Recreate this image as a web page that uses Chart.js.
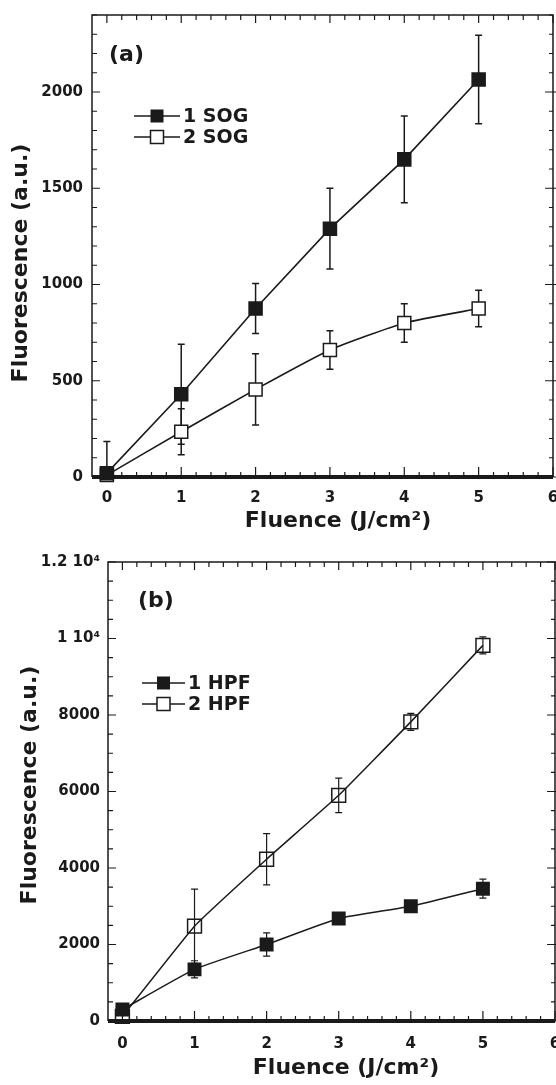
<!DOCTYPE html>
<html>
<head>
<meta charset="utf-8">
<script src="https://cdn.jsdelivr.net/npm/chart.js@4"></script>
<style>
body{margin:0;background:#fff;}
#wrap{position:relative;width:556px;height:1085px;background:#fff;}
canvas{position:absolute;left:0;}
</style>
</head>
<body>
<div id="wrap">
<canvas id="chartA" width="556" height="540" style="top:0"></canvas>
<canvas id="chartB" width="556" height="545" style="top:540px"></canvas>
</div>
<script>
// fluence values (J/cm2)
const fluence = [0,1,2,3,4,5];
const xTicks = [0,1,2,3,4,5,6];

// panel (a) SOG
const sog1 = [20, 430, 875, 1290, 1650, 2065];
const sog1Err = [165, 260, 130, 210, 225, 230];
const sog2 = [10, 235, 455, 660, 800, 875];
const sog2Err = [0, 120, 185, 100, 100, 95];
const yTicksA = [0,500,1000,1500,2000];

// panel (b) HPF
const hpf1 = [300, 1350, 2000, 2680, 3000, 3460];
const hpf1Err = [0, 225, 305, 100, 100, 250];
const hpf2 = [120, 2480, 4230, 5900, 7820, 9820];
const hpf2Err = [0, 970, 670, 450, 220, 220];
const yTicksB = [0,2000,4000,6000,8000,10000,12000];

const INK = "#1a1a1a";
const FONT = "'DejaVu Sans', Arial, sans-serif";

function pts(xs, ys){
    return xs.map((x,i)=>({x:x, y:ys[i]}));
}

function drawSquare(ctx, x, y, s, filled, lw){
    ctx.save();
    if(filled){
        ctx.fillStyle = INK;
        ctx.fillRect(x-s/2, y-s/2, s, s);
    }else{
        ctx.fillStyle = "#fff";
        ctx.fillRect(x-s/2, y-s/2, s, s);
        ctx.strokeStyle = INK;
        ctx.lineWidth = lw;
        ctx.strokeRect(x-s/2, y-s/2, s, s);
    }
    ctx.restore();
}

function framePlugin(p){
    return {
        id:"frame",
        beforeDatasetsDraw(chart){
            const ctx = chart.ctx, xs = chart.scales.x, ys = chart.scales.y;
            chart.data.datasets.forEach(ds=>{
                if(!ds.errors) return;
                ctx.save();
                ctx.strokeStyle = INK;
                ctx.lineWidth = p.errWidth;
                ds.errors.forEach((e,i)=>{
                    if(!e) return;
                    const px = xs.getPixelForValue(ds.data[i].x);
                    const lo = ys.getPixelForValue(Math.max(0, ds.data[i].y - e));
                    const hi = ys.getPixelForValue(ds.data[i].y + e);
                    ctx.beginPath();
                    ctx.moveTo(px, lo); ctx.lineTo(px, hi);
                    ctx.moveTo(px-3.5, lo); ctx.lineTo(px+3.5, lo);
                    ctx.moveTo(px-3.5, hi); ctx.lineTo(px+3.5, hi);
                    ctx.stroke();
                });
                ctx.restore();
            });
        },
        afterDraw(chart){
            const ctx = chart.ctx, a = chart.chartArea;
            const xs = chart.scales.x, ys = chart.scales.y;
            ctx.save();
            ctx.strokeStyle = INK;

            // frame
            ctx.lineWidth = 1.5;
            ctx.beginPath();
            ctx.moveTo(a.left, a.bottom); ctx.lineTo(a.left, a.top);
            ctx.lineTo(a.right, a.top); ctx.lineTo(a.right, a.bottom);
            ctx.stroke();
            ctx.lineWidth = 4;
            ctx.beginPath();
            ctx.moveTo(a.left, a.bottom); ctx.lineTo(a.right, a.bottom);
            ctx.stroke();

            // inward ticks
            ctx.lineWidth = 1.2;
            ctx.beginPath();
            for(let v = 0; v <= 6.001; v += 0.2){
                const major = Math.abs(v - Math.round(v)) < 0.01;
                const px = xs.getPixelForValue(v);
                const len = major ? 8 : 5;
                ctx.moveTo(px, a.top); ctx.lineTo(px, a.top + len);
                ctx.moveTo(px, a.bottom); ctx.lineTo(px, a.bottom - (major ? 10 : 5));
            }
            for(let v = 0; v <= ys.max + 0.1; v += p.yMinor){
                const major = p.yMajor.includes(v);
                const py = ys.getPixelForValue(v);
                ctx.moveTo(a.left, py); ctx.lineTo(a.left + (major ? 8 : 5), py);
                ctx.moveTo(a.right + (major ? 4 : 0), py); ctx.lineTo(a.right - (major ? 8 : 4), py);
            }
            ctx.stroke();

            // panel label
            ctx.fillStyle = INK;
            ctx.textBaseline = "middle";
            ctx.textAlign = "left";
            ctx.font = "bold 22px " + FONT;
            ctx.fillText(p.label, p.labelPos[0], p.labelPos[1]);

            // legend
            ctx.font = "bold 19px " + FONT;
            p.legend.forEach((it,i)=>{
                const ly = p.legendY[i];
                ctx.lineWidth = 1.5;
                ctx.beginPath();
                ctx.moveTo(p.legendX[0], ly); ctx.lineTo(p.legendX[1], ly);
                ctx.stroke();
                drawSquare(ctx, (p.legendX[0]+p.legendX[1])/2, ly, 13, it.filled, 1.5);
                ctx.fillStyle = INK;
                ctx.fillText(it.text, p.legendX[1] + 3, ly + 1);
            });

            // axis titles
            ctx.font = "bold 22px " + FONT;
            ctx.textAlign = "center";
            ctx.fillText("Fluence (J/cm\u00B2)", p.xTitle[0], p.xTitle[1]);
            ctx.translate(p.yTitle[0], p.yTitle[1]);
            ctx.rotate(-Math.PI/2);
            ctx.fillText("Fluorescence (a.u.)", 0, 0);
            ctx.restore();
        }
    };
}

function noPad(s){
    s.paddingLeft = 0; s.paddingRight = 0;
    s.paddingTop = 0; s.paddingBottom = 0;
}

function makeChart(id, sets, yMax, yTicks, yLabel, geo, deco){
    return new Chart(document.getElementById(id), {
        type:"line",
        data:{ datasets:sets },
        options:{
            responsive:false,
            animation:false,
            layout:{ autoPadding:false, padding:{ top:geo.top, right:geo.right, left:0, bottom:0 } },
            plugins:{ legend:{display:false}, tooltip:{enabled:false} },
            scales:{
                x:{
                    type:"linear", min:-0.2, max:6,
                    afterBuildTicks:s=>{ s.ticks = xTicks.map(v=>({value:v})); },
                    afterFit:s=>{ s.height = geo.xH; noPad(s); },
                    grid:{ display:false, drawTicks:false },
                    border:{ display:false },
                    ticks:{ color:INK, padding:geo.xPad, maxRotation:0, autoSkip:false,
                        font:{ family:FONT, size:15, weight:"bold" } }
                },
                y:{
                    type:"linear", min:0, max:yMax,
                    afterBuildTicks:s=>{ s.ticks = yTicks.map(v=>({value:v})); },
                    afterFit:s=>{ s.width = geo.yW; noPad(s); },
                    grid:{ display:false, drawTicks:false },
                    border:{ display:false },
                    ticks:{ color:INK, padding:geo.yPad, callback:yLabel,
                        font:{ family:FONT, size:15, weight:"bold" } }
                }
            }
        },
        plugins:[framePlugin(deco)]
    });
}

function series(label, ys, errs, filled, r, lw, tension, hollow){
    return {
        label:label,
        data:pts(fluence, ys),
        errors:errs,
        borderColor:INK,
        borderWidth:lw,
        tension:tension,
        pointStyle:"rect",
        pointRadius:r,
        pointBorderWidth:1.5,
        pointBorderColor:INK,
        pointBackgroundColor: filled ? INK : (hollow ? "rgba(255,255,255,0)" : "#fff"),
        clip:false
    };
}

makeChart("chartA", [
        series("1 SOG", sog1, sog1Err, true, 9.2, 1.6, 0, false),
        series("2 SOG", sog2, sog2Err, false, 9.2, 1.6, 0.15, false)
    ], 2400, yTicksA, v=>String(v),
    { top:15, right:3, xH:63, yW:92, xPad:12, yPad:9 },
    { label:"(a)", labelPos:[109,55], errWidth:1.5, yMinor:100, yMajor:yTicksA,
      legend:[{text:"1 SOG", filled:true},{text:"2 SOG", filled:false}],
      legendX:[134,180], legendY:[116,137],
      xTitle:[338,521], yTitle:[21,263] });

makeChart("chartB", [
        series("1 HPF", hpf1, hpf1Err, true, 8.8, 1.5, 0.15, false),
        series("2 HPF", hpf2, hpf2Err, false, 9.8, 1.5, 0.1, true)
    ], 12000, yTicksB,
    v=> v === 12000 ? "1.2 10\u2074" : (v === 10000 ? "1 10\u2074" : String(v)),
    { top:22, right:1, xH:64, yW:108, xPad:14, yPad:8 },
    { label:"(b)", labelPos:[138,61], errWidth:1.2, yMinor:500, yMajor:yTicksB,
      legend:[{text:"1 HPF", filled:true},{text:"2 HPF", filled:false}],
      legendX:[142,185], legendY:[143,164],
      xTitle:[346,528], yTitle:[30,245] });
</script>
</body>
</html>
